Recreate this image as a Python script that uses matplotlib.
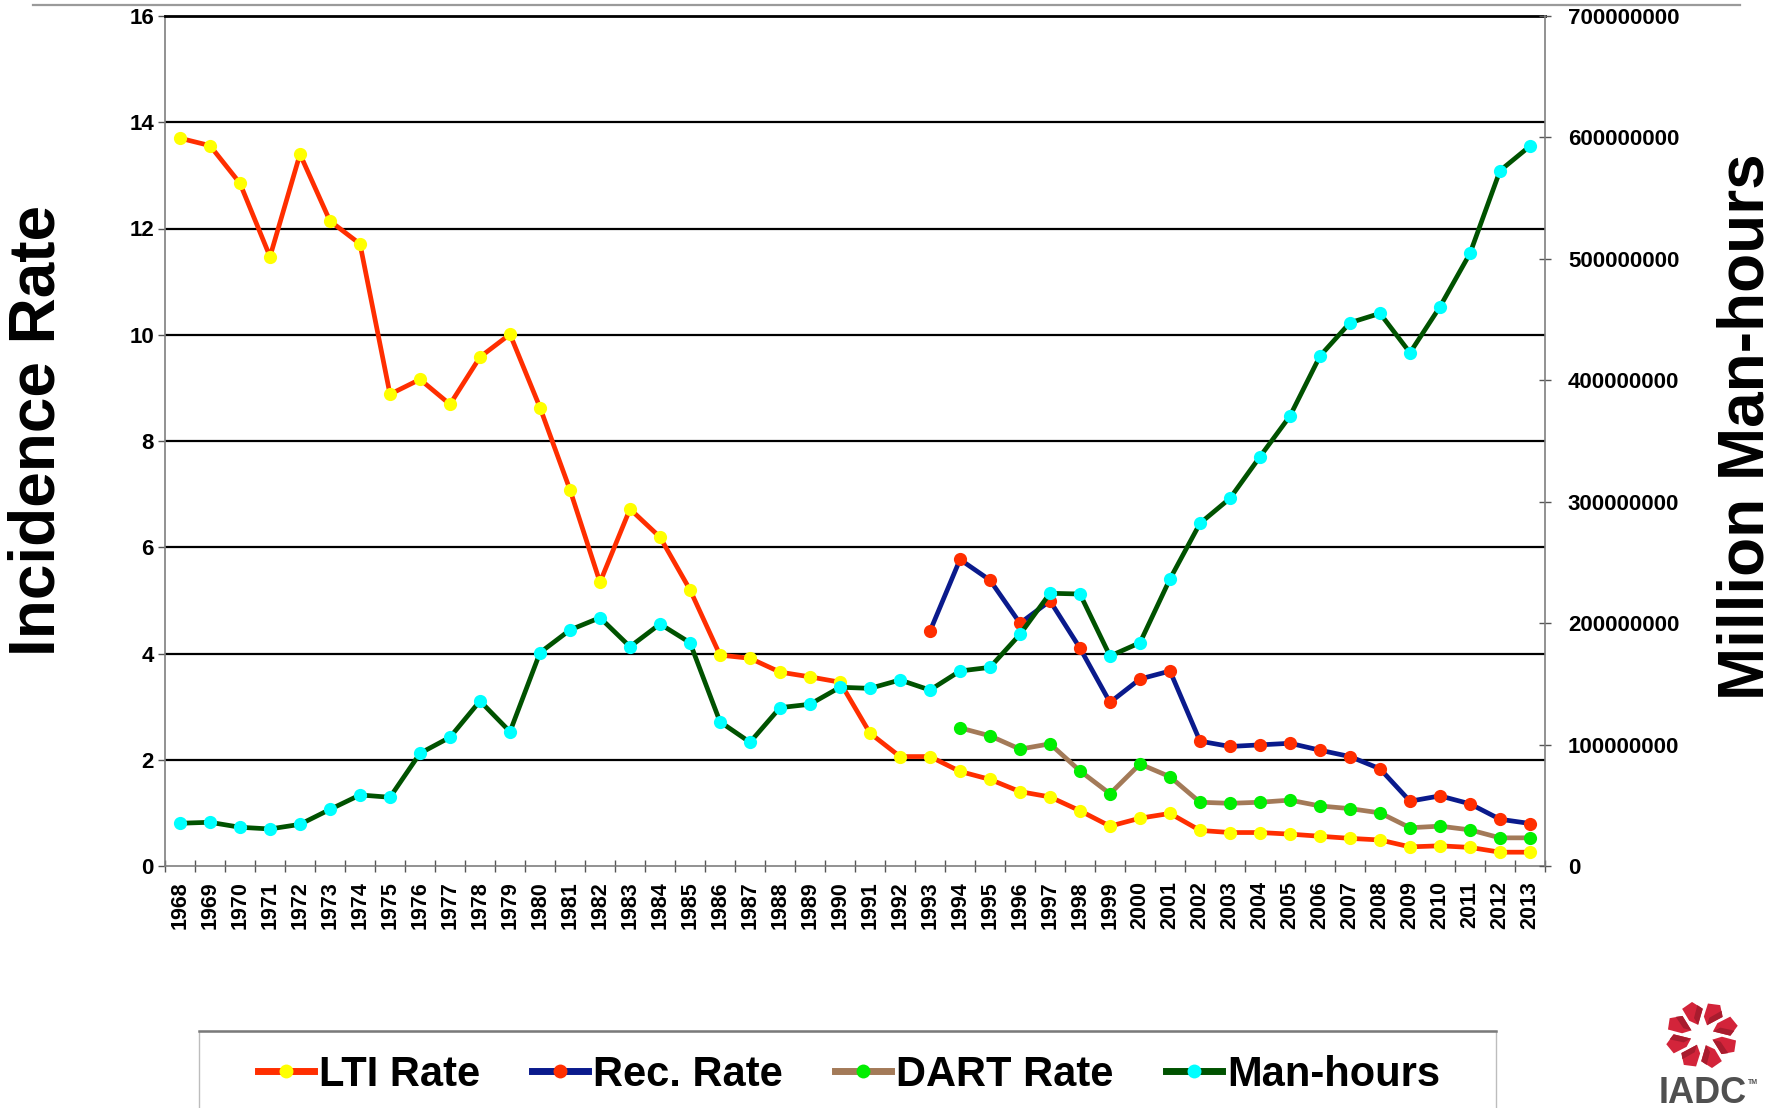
import numpy as np
import matplotlib
matplotlib.use("Agg")
import matplotlib.pyplot as plt
from matplotlib.lines import Line2D
from matplotlib.patches import Rectangle, Polygon
from matplotlib.ticker import FixedLocator, FuncFormatter

plt.rcParams['font.family'] = ['Liberation Sans', 'DejaVu Sans']
plt.rcParams['font.weight'] = 'bold'

# ---------------- data ----------------
years = [str(y) for y in range(1968, 2014)]

lti_rate = [13.70, 13.56, 12.85, 11.47, 13.40, 12.14, 11.71, 8.88, 9.16, 8.69,
            9.58, 10.01, 8.63, 7.08, 5.34, 6.72, 6.19, 5.20, 3.97, 3.91,
            3.65, 3.56, 3.46, 2.50, 2.06, 2.06, 1.78, 1.63, 1.40, 1.30,
            1.04, 0.75, 0.90, 0.99, 0.67, 0.63, 0.63, 0.60, 0.56, 0.52,
            0.49, 0.36, 0.38, 0.35, 0.26, 0.26]

rec_years = [str(y) for y in range(1993, 2014)]
rec_rate = [4.42, 5.77, 5.38, 4.57, 4.99, 4.10, 3.08, 3.52, 3.67, 2.35,
            2.25, 2.28, 2.31, 2.18, 2.06, 1.83, 1.22, 1.32, 1.17, 0.88, 0.80]

dart_years = [str(y) for y in range(1994, 2014)]
dart_rate = [2.60, 2.45, 2.20, 2.30, 1.79, 1.36, 1.92, 1.68, 1.20, 1.18,
             1.20, 1.24, 1.13, 1.08, 1.00, 0.72, 0.75, 0.68, 0.53, 0.53]

man_hours_millions = [35.2, 36.0, 31.9, 30.5, 34.3, 46.6, 58.5, 56.6, 92.8, 106.0,
                      135.9, 110.6, 175.7, 194.4, 204.5, 180.6, 199.3, 183.9, 118.8, 101.9,
                      130.4, 133.2, 147.2, 146.3, 153.2, 144.9, 160.6, 163.6, 190.8, 224.6,
                      224.0, 172.9, 183.9, 236.4, 282.2, 302.8, 337.1, 370.6, 420.0, 447.4,
                      455.1, 422.7, 460.6, 504.5, 572.6, 592.9]

left_ticks = [0, 2, 4, 6, 8, 10, 12, 14, 16]
right_ticks = [0, 100000000, 200000000, 300000000, 400000000,
               500000000, 600000000, 700000000]

series_names = ["LTI Rate", "Rec. Rate", "DART Rate", "Man-hours"]

# ---------------- figure ----------------
W, H = 1787, 1108
fig = plt.figure(figsize=(W / 100, H / 100), dpi=100)

def fx(px):
    return px / W

def fy(py):
    return 1 - py / H

ax_left, ax_right, ax_top, ax_bottom = 165, 1545, 16, 866
ax = fig.add_axes([fx(ax_left), fy(ax_bottom), fx(ax_right - ax_left), (ax_bottom - ax_top) / H])
ax2 = ax.twinx()

x = np.arange(len(years))
idx = {y: i for i, y in enumerate(years)}
x_rec = np.array([idx[y] for y in rec_years])
x_dart = np.array([idx[y] for y in dart_years])

lw = 3.4
ms = 9.5
c_lti, c_lti_m = "#FF2E00", "#FFFF00"
c_rec, c_rec_m = "#0A1A8C", "#FF2E00"
c_dart, c_dart_m = "#A37A58", "#00EE00"
c_mh, c_mh_m = "#005200", "#00FFFF"

ax.plot(x, lti_rate, color=c_lti, lw=lw, marker='o', ms=ms, mfc=c_lti_m, mec=c_lti_m, mew=0, zorder=3)
ax.plot(x_dart, dart_rate, color=c_dart, lw=lw, marker='o', ms=ms, mfc=c_dart_m, mec=c_dart_m, mew=0, zorder=4)
ax.plot(x_rec, rec_rate, color=c_rec, lw=lw, marker='o', ms=ms, mfc=c_rec_m, mec=c_rec_m, mew=0, zorder=5)
ax2.plot(x, np.array(man_hours_millions) * 1e6, color=c_mh, lw=lw, marker='o', ms=ms,
         mfc=c_mh_m, mec=c_mh_m, mew=0, zorder=6)

# axes limits
ax.set_xlim(-0.5, len(years) - 0.5)
ax.set_ylim(0, 16)
ax2.set_ylim(0, 700000000)

# gridlines
ax.set_yticks(left_ticks)
ax.set_yticklabels([str(t) for t in left_ticks])
for t in left_ticks[1:-1]:
    ax.axhline(t, color='black', lw=1.6, zorder=1)

# spines
for s in ['left', 'bottom']:
    ax.spines[s].set_color('#7F7F7F')
    ax.spines[s].set_linewidth(1.2)
ax.spines['top'].set_color('black')
ax.spines['top'].set_linewidth(2.0)
ax.spines['right'].set_visible(False)
ax2.spines['right'].set_color('#7F7F7F')
ax2.spines['right'].set_linewidth(1.2)
for s in ['left', 'top', 'bottom']:
    ax2.spines[s].set_visible(False)

# x ticks: labels at centers, tick marks at boundaries
ax.set_xticks(x)
ax.set_xticklabels(years, rotation=90, fontsize=15.5, fontweight='bold')
ax.tick_params(axis='x', which='major', length=0, pad=11)
ax.xaxis.set_minor_locator(FixedLocator(np.arange(-0.5, len(years), 1.0)))
ax.tick_params(axis='x', which='minor', direction='inout', length=9, width=1.0, color='#555555')

ax.tick_params(axis='y', which='major', direction='out', length=5, width=1.0, color='#555555',
               labelsize=16, pad=3)
for lab in ax.get_yticklabels():
    lab.set_fontweight('bold')

ax2.set_yticks(right_ticks)
ax2.yaxis.set_major_formatter(FuncFormatter(lambda v, p: "%d" % int(round(v))))
ax2.tick_params(axis='y', which='major', direction='inout', length=9, width=1.0, color='#555555',
                labelsize=16, pad=12)
for lab in ax2.get_yticklabels():
    lab.set_fontweight('bold')

# axis titles
fig.text(fx(38), fy(430), "Incidence Rate", rotation=90, fontsize=46, fontweight='bold',
         ha='center', va='center')
fig.text(fx(1746), fy(427), "Million Man-hours", rotation=90, fontsize=46, fontweight='bold',
         ha='center', va='center')

# top decorative line
fig.add_artist(Line2D([fx(33), fx(1740)], [fy(4.5), fy(4.5)], color='#9A9A9A', lw=1.6))

# legend box
box = Rectangle((fx(199), fy(1130)), fx(1496 - 199), (1130 - 1031) / H, transform=fig.transFigure,
                facecolor='white', edgecolor='#BDBDBD', lw=1.0, clip_on=False)
fig.add_artist(box)
fig.add_artist(Line2D([fx(199), fx(1496)], [fy(1031), fy(1031)], color='#7A7A7A', lw=1.8))

handles = [
    Line2D([], [], color=c_lti, lw=5, marker='o', ms=10, mfc=c_lti_m, mec=c_lti_m, mew=0),
    Line2D([], [], color=c_rec, lw=5, marker='o', ms=10, mfc=c_rec_m, mec=c_rec_m, mew=0),
    Line2D([], [], color=c_dart, lw=5, marker='o', ms=10, mfc=c_dart_m, mec=c_dart_m, mew=0),
    Line2D([], [], color=c_mh, lw=5, marker='o', ms=10, mfc=c_mh_m, mec=c_mh_m, mew=0),
]
leg = fig.legend(handles, series_names, loc='center', bbox_to_anchor=(fx(849), fy(1075)),
                 ncol=4, frameon=False, handlelength=1.35, handletextpad=0.12,
                 columnspacing=1.25, prop={'weight': 'bold', 'size': 30})

# IADC logo
lax = fig.add_axes([fx(1662), fy(1072), fx(80), 74 / H])
lax.set_xlim(-1.1, 1.1)
lax.set_ylim(-1.1, 1.1)
lax.axis('off')
for k in range(8):
    th = np.deg2rad(22.5 + 45 * k)
    def P(r, a):
        return (r * np.cos(th + a), r * np.sin(th + a))
    outer = [P(0.32, -0.05), P(0.78, -0.42), P(1.02, -0.12), P(0.95, 0.22), P(0.55, 0.30)]
    lax.add_patch(Polygon(outer, closed=True, facecolor='#D3243A', edgecolor='none'))
    inner = [P(0.32, -0.05), P(0.78, -0.42), P(0.90, -0.25), P(0.55, 0.02)]
    lax.add_patch(Polygon(inner, closed=True, facecolor='#A81C2E', edgecolor='none'))
fig.text(fx(1703), fy(1076), "IADC", fontsize=26, fontweight='bold', color='#505050',
         ha='center', va='top')
fig.text(fx(1748), fy(1079), "TM", fontsize=5, color='#505050', ha='left', va='top')

fig.savefig("out.png", dpi=100)
